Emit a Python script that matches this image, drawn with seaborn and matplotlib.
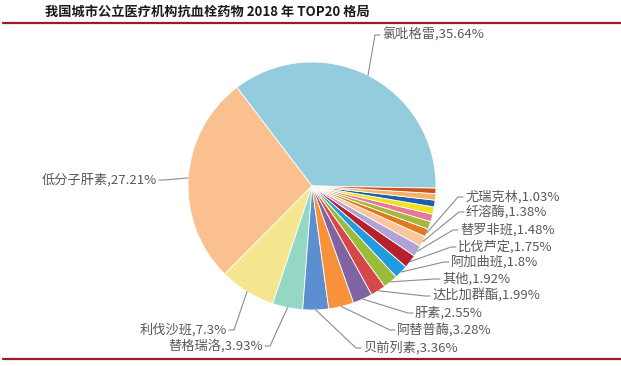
import numpy as np
import matplotlib
matplotlib.use("Agg")
import matplotlib.pyplot as plt
import seaborn as sns

# data (share of market, %), in drawing order
drugs = ["氯吡格雷", "低分子肝素", "利伐沙班", "替格瑞洛", "贝前列素", "阿替普酶",
         "肝素", "达比加群酯", "其他", "阿加曲班", "比伐芦定", "替罗非班",
         "纤溶酶", "尤瑞克林", "", "", "", "", "", ""]
shares = [35.64, 27.21, 7.3, 3.93, 3.36, 3.28, 2.55, 1.99, 1.92, 1.8, 1.75, 1.48,
          1.38, 1.03, 1.02, 0.98, 0.95, 0.88, 0.85, 0.70]
title = "我国城市公立医疗机构抗血栓药物 2018 年 TOP20 格局"

slice_colors = ["#93CDDD", "#FAC090", "#F3E68E", "#93D7C4", "#5B8FCF", "#F7923A",
                "#8064A2", "#D6474A", "#9BBB3A", "#1F9BDE", "#B8202E", "#B3A2D7",
                "#F9C79A", "#E07A1F", "#A6B83A", "#E8779B", "#F2E21A", "#1F5FA8",
                "#F5B26B", "#C8561A"]

# label layout in pixels (x, y from top, alignment)
label_pos = [(382, 35, "left"), (157, 180, "right"), (227, 330, "right"),
             (263, 346, "right"), (363, 348, "left"), (397, 330, "left"),
             (415, 313, "left"), (432, 296, "left"), (442, 279, "left"),
             (451, 262, "left"), (458, 247, "left"), (460, 230, "left"),
             (466, 212, "left"), (465, 197, "left")]

W, H = 621, 366
sns.set_theme(style="white")
plt.rcParams["font.family"] = ["Noto Sans CJK SC", "DejaVu Sans"]

fig = plt.figure(figsize=(W / 100, H / 100), dpi=100)
ax = fig.add_axes([0, 0, 1, 1])

cx, cy, r = 312, H - 186, 124
wedges, _ = ax.pie(shares, colors=slice_colors, startangle=-1, counterclock=True,
                   center=(cx, cy), radius=r,
                   wedgeprops=dict(edgecolor="white", linewidth=0.6))
ax.set_xlim(0, W)
ax.set_ylim(0, H)
ax.axis("off")

grey = "#595959"
for w, name, val, (tx, ty, ha) in zip(wedges, drugs, shares, label_pos):
    ang = np.deg2rad((w.theta1 + w.theta2) / 2)
    px, py = cx + r * np.cos(ang), cy + r * np.sin(ang)
    ty = H - ty
    sign = -1 if ha == "left" else 1
    ex = tx + sign * 2
    kx = tx + sign * 7
    ax.plot([px, kx, ex], [py, ty, ty], color="#8c8c8c", lw=0.8)
    ax.text(tx, ty, f"{name},{val:g}%", ha=ha, va="center", fontsize=9.5,
            color=grey)

ax.text(45, H - 12, title, ha="left", va="center", fontsize=9.5,
        fontweight="bold", color="#1a1a1a")
ax.plot([3, W], [H - 23, H - 23], color="#9B1C1C", lw=1.6)
ax.plot([3, W], [H - 359, H - 359], color="#9B1C1C", lw=1.6)

fig.savefig("out.png", dpi=100, facecolor="white")
